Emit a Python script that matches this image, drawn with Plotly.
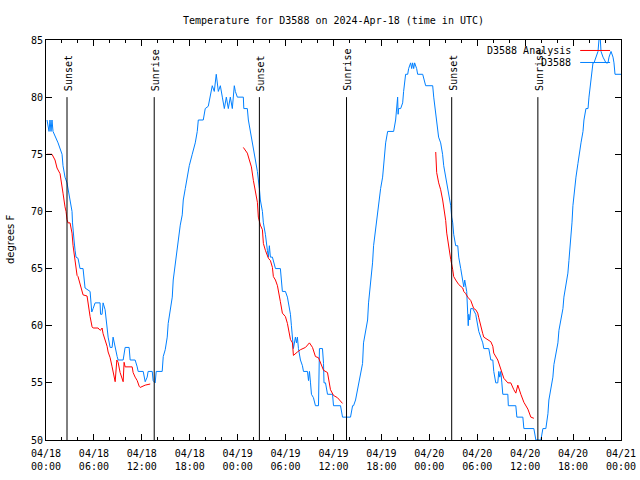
import pandas as pd
import plotly.graph_objects as go

# ---------------- data ----------------
start = pd.Timestamp("2024-04-18 00:00")
end = pd.Timestamp("2024-04-21 00:00")

# Observations (D3588), hours since 04/18 00:00 UTC and deg F
blue_hours = [
    0.13, 0.38, 0.50, 0.63, 0.75, 0.88, 1.51, 2.01, 2.13, 2.38,
    2.63, 2.76, 3.01, 3.26, 3.32, 3.39, 3.51, 3.64, 3.76, 4.01,
    4.26, 4.64, 4.89, 5.52, 5.73, 5.90, 6.15, 6.77, 6.83, 7.02,
    7.15, 7.40, 7.65, 7.78, 8.03, 8.28, 8.40, 8.53, 8.66, 8.91,
    9.03, 9.66, 9.91, 10.41, 10.54, 11.16, 11.42, 11.54, 12.17, 12.42,
    12.67, 12.79, 13.30, 13.42, 13.67, 13.80, 14.55, 14.68, 14.93, 15.18,
    15.30, 15.55, 15.81, 15.93, 16.18, 16.43, 16.56, 16.81, 17.06, 17.19,
    17.44, 17.69, 17.94, 18.31, 18.69, 18.94, 19.07, 19.69, 19.94, 20.32,
    20.57, 20.82, 21.07, 21.32, 21.58, 21.83, 22.08, 22.33, 22.58, 22.83,
    23.08, 23.33, 23.58, 23.71, 23.96, 24.71, 24.77, 25.21, 25.34, 25.59,
    25.84, 25.97, 26.22, 26.47, 26.72, 26.84, 27.10, 27.22, 27.47, 27.60,
    27.72, 27.85, 27.97, 28.10, 28.35, 28.73, 29.35, 29.60, 29.98, 30.23,
    30.36, 30.48, 30.61, 30.73, 30.86, 30.98, 31.23, 31.36, 31.48, 31.61,
    31.86, 32.11, 32.24, 32.74, 32.87, 32.99, 33.12, 33.24, 33.49, 33.74,
    34.12, 34.18, 34.24, 34.62, 34.75, 34.81, 35.00, 35.25, 35.88, 36.00,
    36.88, 37.13, 38.13, 38.39, 38.51, 38.76, 39.01, 39.14, 39.39, 39.64,
    39.76, 40.01, 40.27, 40.39, 40.64, 40.89, 41.02, 41.27, 41.52, 41.65,
    41.90, 42.15, 42.27, 42.53, 42.78, 43.53, 43.78, 44.03, 44.09, 44.15,
    44.41, 44.66, 44.78, 45.03, 45.29, 45.41, 45.66, 45.79, 45.91, 46.04,
    46.16, 46.41, 46.54, 47.17, 47.54, 48.42, 48.55, 48.80, 49.05, 49.16,
    49.42, 49.66, 49.80, 50.05, 50.30, 50.43, 50.68, 50.80, 50.93, 51.05,
    51.30, 51.56, 51.68, 51.93, 52.18, 52.31, 52.43, 52.56, 52.68, 52.81,
    52.87, 52.94, 53.06, 53.19, 53.44, 53.81, 54.06, 54.19, 54.44, 54.69,
    54.82, 55.44, 55.70, 55.95, 56.07, 56.20, 56.32, 56.57, 56.70, 56.82,
    56.95, 57.08, 57.20, 57.83, 57.89, 58.83, 58.96, 59.71, 59.84, 61.09,
    61.34, 61.97, 62.22, 62.59, 62.85, 62.97, 63.22, 63.47, 63.60, 63.85,
    64.10, 64.23, 64.48, 64.73, 64.85, 65.10, 65.35, 65.48, 65.73, 65.86,
    65.98, 66.11, 66.36, 66.61, 66.74, 66.99, 67.24, 67.36, 67.61, 67.87,
    67.99, 68.24, 68.49, 68.62, 68.87, 69.12, 69.24, 69.37, 69.50, 69.75,
    70.12, 70.37, 70.50, 70.75, 71.00, 71.12, 71.25, 72.00,
]
blue_temps = [
    78, 77, 78, 77, 78, 77, 76, 75, 74, 73,
    72.5, 72, 71, 70, 69, 68, 67.5, 66.6, 66, 65.9,
    65, 65, 63.3, 63, 61.2, 61.5, 62, 62, 61, 61,
    62, 61.4, 59.8, 59, 58.1, 58.1, 59, 58.5, 58.1, 57.3,
    57, 57, 58.1, 58.1, 57, 57, 56.4, 56, 56, 55.1,
    55.5, 56, 56, 55.2, 55, 56, 56, 57.3, 57.9, 59,
    60.2, 61.5, 62.5, 64, 65.5, 66.8, 67.8, 68.8, 69.7, 71,
    72, 73, 74, 75, 76, 77, 78, 78, 79, 79.2,
    80.2, 81, 80.5, 82, 80.5, 81, 80, 79, 80, 79,
    80, 79, 81, 80.5, 80, 80, 79, 79, 78, 77,
    76, 75.5, 74.5, 73.5, 72, 71, 70, 69, 68, 67,
    66.6, 66, 67, 66, 66, 65, 65, 63, 63, 62.5,
    62, 61.5, 61, 60, 59, 58, 59, 58.5, 59, 58,
    57, 56.5, 56, 56, 55.2, 56, 55, 54, 53.7, 53,
    53, 55.5, 58, 58, 56.7, 55, 55, 54, 54, 53,
    53, 52, 52, 53, 53, 53.5, 54.4, 55.2, 56, 56.7,
    58.5, 59.4, 60.5, 62, 63.5, 65.5, 67, 68.5, 70, 71,
    72, 73, 74, 76, 77, 77, 78, 80, 78.5, 79,
    79, 79.5, 80.5, 82, 82, 82.5, 83, 82.5, 83, 82.5,
    83, 82.5, 82, 82, 81, 81, 80, 78.5, 77.5, 76.5,
    76, 75, 74, 73, 72, 71.3, 70.5, 69.5, 69, 68,
    67, 67, 66, 65, 64, 63.4, 64, 63.5, 63, 61,
    60, 61, 60.5, 61.5, 61.5, 61, 60, 59.5, 59, 58.5,
    58, 58, 57, 57, 56, 55.2, 55, 55, 56, 55.5,
    56, 55, 54, 54, 53, 53, 52, 52, 51, 51,
    50, 50, 51, 51, 52.3, 53.5, 54.6, 55.5, 56.6, 57.4,
    58.5, 59.6, 60.5, 61.5, 62.5, 63.6, 64.6, 65.7, 67.5, 69,
    70.5, 71.5, 73, 74.2, 75, 76, 77, 78, 79, 79,
    80, 81.5, 83, 83, 83.5, 84, 85, 85.5, 84, 83.5,
    83, 83, 83.5, 84, 83.5, 83, 82, 82,
]

# Analysis (D3588 Analysis), three overnight segments
red1_hours = [0.13, 0.75, 1.13, 1.38, 1.76, 1.88, 2.01, 2.13, 2.38, 2.51,
              2.63, 2.76, 3.01, 3.26, 3.39, 3.51, 3.64, 3.76, 3.89, 4.01,
              4.26, 4.39, 4.52, 4.64, 5.14, 5.27, 5.52, 5.77, 5.90, 6.52,
              6.77, 6.96, 7.02, 7.15, 7.40, 7.65, 7.78, 8.03, 8.28, 8.40,
              8.66, 8.87, 9.03, 9.28, 9.66, 9.78, 9.91, 10.79, 10.91, 11.16,
              11.42, 11.67, 11.79, 12.42, 13.05]
red1_temps = [75, 75, 74.5, 73.8, 73.3, 72.6, 72.3, 71.6, 70.4, 70,
              69.3, 69, 69, 68.1, 67, 66.4, 65.5, 64.9, 64.4, 64.3,
              63.7, 63.4, 63, 62.7, 62.6, 61.8, 60.8, 59.9, 59.8, 59.8,
              59.6, 59.7, 59.8, 59.3, 58.8, 58.2, 57.7, 57.2, 56.4, 55.9,
              55.1, 57, 56.8, 55.9, 55.1, 56.8, 56.4, 56.4, 55.9, 55.5,
              55.2, 54.7, 54.6, 54.8, 54.9]

red2_hours = [24.71, 24.96, 25.21, 25.46, 25.72, 25.97, 26.22, 26.47, 26.59, 26.72,
              26.84, 27.10, 27.22, 27.47, 27.72, 27.85, 28.10, 28.35, 28.47, 28.73,
              28.98, 29.10, 29.35, 29.60, 29.73, 29.98, 30.23, 30.36, 30.61, 30.86,
              30.98, 31.48, 31.86, 32.49, 32.99, 33.37, 33.74, 34.12, 34.37, 34.75,
              35.25, 35.62, 36.00, 36.50, 37.13]
red2_temps = [75.6, 75.3, 75.1, 74.5, 73.9, 72.7, 71.9, 70.8, 69.5, 69,
              68.8, 68.4, 67.2, 66.6, 66, 65.9, 65.7, 65.1, 64.3, 64,
              63.5, 63.1, 62.1, 61.1, 61, 60.8, 60.2, 59.6, 58.8, 58.5,
              57.4, 57.7, 57.9, 58.1, 58.5, 58.1, 57.3, 57.2, 56.7, 56.1,
              55.9, 54.4, 53.9, 53.7, 53.2]

red3_hours = [48.80, 48.92, 49.17, 49.42, 49.67, 49.80, 50.05, 50.18, 50.30, 50.43,
              50.55, 50.68, 50.93, 51.05, 51.30, 51.56, 51.68, 52.18, 52.31, 52.56,
              52.81, 53.19, 53.44, 53.56, 53.81, 54.06, 54.19, 54.44, 54.69, 54.82,
              55.32, 55.70, 55.95, 56.07, 56.57, 56.95, 57.33, 57.83, 58.20, 58.58,
              58.83, 59.08, 59.21, 59.46, 59.84, 60.34, 60.71, 61.09]
red3_temps = [75.2, 73.4, 72.5, 71.9, 71, 70.4, 69.2, 68.1, 67.5, 66.9,
              66.4, 65.8, 64.9, 64.3, 64, 63.7, 63.6, 63.3, 63, 62.8,
              62.5, 62.2, 61.8, 61.5, 61.4, 61.1, 60.7, 59.9, 59.3, 59,
              58.8, 58.6, 58.2, 57.6, 57, 56.2, 55.4, 55, 55, 54.4,
              54.1, 54.8, 54.5, 54, 53.3, 52.7, 52, 51.9]

# Sun events, hours since 04/18 00:00 UTC
sun_hours = [2.63, 13.55, 26.72, 37.63, 50.80, 61.59]
sun_labels = ["Sunset", "Sunrise", "Sunset", "Sunrise", "Sunset", "Sunrise"]

y_min, y_max = 50, 85
sun_line_top = 80

BLUE = "#0080ff"
RED = "#ff0000"
FONT = "DejaVu Sans Mono"
FIG_W, FIG_H = 640, 480


def to_time(hours):
    return [start + pd.Timedelta(hours=h) for h in hours]


red_hours = red1_hours + [None] + red2_hours + [None] + red3_hours
red_temps = red1_temps + [None] + red2_temps + [None] + red3_temps
red_times = [None if h is None else start + pd.Timedelta(hours=h) for h in red_hours]

fig = go.Figure()
fig.add_trace(go.Scatter(x=to_time(blue_hours), y=blue_temps, mode="lines",
                         name="D3588", line=dict(color=BLUE, width=1)))
fig.add_trace(go.Scatter(x=red_times, y=red_temps, mode="lines",
                         name="D3588 Analysis", connectgaps=False,
                         line=dict(color=RED, width=1)))

shapes = []
annotations = []
for t, lab in zip(to_time(sun_hours), sun_labels):
    shapes.append(dict(type="line", xref="x", yref="y", x0=t, x1=t,
                       y0=y_min, y1=sun_line_top,
                       line=dict(color="black", width=1)))
    annotations.append(dict(x=t, y=sun_line_top, xref="x", yref="y",
                            text=lab, textangle=-90, showarrow=False,
                            xanchor="center", yanchor="bottom",
                            xshift=1, yshift=4,
                            font=dict(family=FONT, size=10, color="black")))

# custom gnuplot-like legend (text right-aligned, sample line to its right)
legend_items = [("D3588 Analysis", RED, 0.9738), ("D3588", BLUE, 0.9438)]
for text, col, yy in legend_items:
    annotations.append(dict(x=0.9165, y=yy, xref="paper", yref="paper",
                            text=text, showarrow=False, xanchor="right",
                            yanchor="middle",
                            font=dict(family=FONT, size=10, color="black")))
    shapes.append(dict(type="line", xref="paper", yref="paper",
                       x0=0.929, x1=0.981, y0=yy, y1=yy,
                       line=dict(color=col, width=1)))

annotations.append(dict(x=-0.0626, y=0.5, xref="paper", yref="paper",
                        text="degrees F", textangle=-90, showarrow=False,
                        xanchor="center", yanchor="middle",
                        font=dict(family="DejaVu Sans", size=10, color="black")))

fig.update_layout(
    width=FIG_W, height=FIG_H,
    margin=dict(l=46, r=19, t=40, b=40, autoexpand=False),
    paper_bgcolor="white", plot_bgcolor="white",
    showlegend=False,
    hovermode=False,
    title=dict(text="Temperature for D3588 on 2024-Apr-18 (time in UTC)",
               x=0.5, xref="paper", y=1 - 20.5 / FIG_H, yref="container",
               xanchor="center", yanchor="middle",
               font=dict(family=FONT, size=10, color="black")),
    font=dict(family=FONT, size=10, color="black"),
    shapes=shapes, annotations=annotations,
)
fig.update_xaxes(
    range=[start, end], type="date",
    tick0=start, dtick=6 * 3600 * 1000, tickformat="%m/%d<br>%H:%M",
    ticks="inside", ticklen=6, tickcolor="black", tickwidth=1,
    ticklabeloverflow="allow", ticklabelstandoff=4,
    minor=dict(dtick=2 * 3600 * 1000, ticks="inside", ticklen=3,
               tickcolor="black", tickwidth=1, showgrid=False),
    showline=True, linecolor="black", linewidth=1, mirror="allticks",
    showgrid=False, zeroline=False,
    tickfont=dict(family=FONT, size=10, color="black"),
)
fig.update_yaxes(
    range=[y_min, y_max], dtick=5, tick0=50,
    ticks="inside", ticklen=6, tickcolor="black", tickwidth=1,
    showline=True, linecolor="black", linewidth=1, mirror="allticks",
    showgrid=False, zeroline=False,
    tickfont=dict(family=FONT, size=10, color="black"),
)

# remove the page's default 8px body margin so the 640x480 figure fills the window
fig.write_html("out.html",
               config={"displayModeBar": False, "staticPlot": True},
               post_script="document.body.style.margin='0';"
                           "document.body.style.overflow='hidden';")
